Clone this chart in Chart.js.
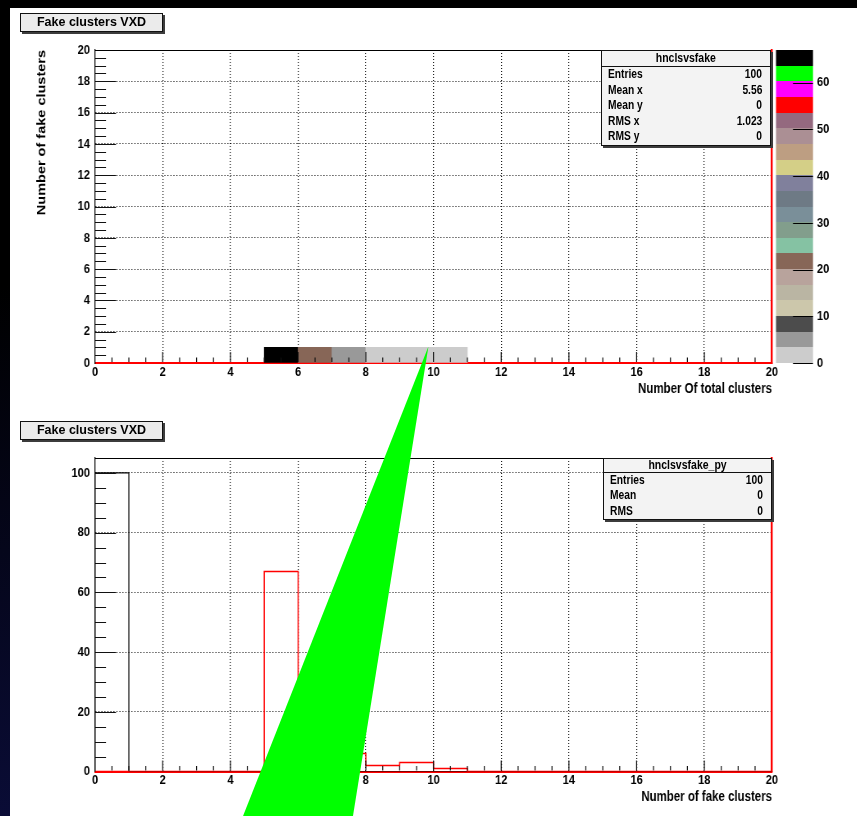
<!DOCTYPE html>
<html lang="en">
<head>
<meta charset="utf-8">
<title>Fake clusters VXD</title>
<script src="https://cdn.jsdelivr.net/npm/chart.js@4.4.1/dist/chart.umd.min.js"></script>
<style>
  html, body { margin: 0; padding: 0; background: #000; }
  #page { position: relative; width: 857px; height: 816px; overflow: hidden; background: #000; }
  #edge { position: absolute; left: 0; top: 0; width: 10px; height: 816px;
          background: linear-gradient(to bottom, #000 0%, #000 35%, #0a0c36 100%); }
  #sheet { position: absolute; left: 10px; top: 8px; width: 847px; height: 808px; background: #fff; }
  .pad { position: absolute; left: 10px; }
  #padTop { top: 8px; }
  #padBottom { top: 408px; }
  .pad canvas { display: block; }
  .pave { position: absolute; box-sizing: border-box; border: 1px solid #111; box-shadow: 2px 2px 0 #3c3c3c; color: #000; }
  .title { left: 20px; width: 143px; height: 19px; background: #ebebeb;
           font: bold 12.5px "Liberation Sans", Arial, sans-serif; line-height: 17px; text-align: center; }
  .stats { background: #f3f3f3; font: bold 12.5px "Liberation Sans", Arial, sans-serif; }
  .stats .head { text-align: center; border-bottom: 1px solid #111; box-sizing: border-box; }
  .stats .head span { display: inline-block; transform: scaleX(0.84); }
  .stats .row { display: flex; justify-content: space-between; padding: 0 8px 0 6px; }
  .stats .row span { display: inline-block; transform: scaleX(0.82); }
  .stats .row span:first-child { transform-origin: left center; }
  .stats .row span:last-child { transform-origin: right center; }
  #overlay { position: absolute; left: 0; top: 0; pointer-events: none; }
</style>
</head>
<body>
<div id="page">
  <div id="edge"></div>
  <div id="sheet"></div>
  <div class="pad" id="padTop"><canvas id="cTop" width="1026" height="400" style="width:841px;height:400px"></canvas></div>
  <div class="pad" id="padBottom"><canvas id="cBottom" width="1026" height="408" style="width:841px;height:408px"></canvas></div>
  <div class="pave title" style="top:13px">Fake clusters VXD</div>
  <div class="pave title" style="top:421px">Fake clusters VXD</div>
  <div class="pave stats" id="statsTop" style="left:601px;top:50px;width:170px;height:96px"></div>
  <div class="pave stats" id="statsBottom" style="left:603px;top:458px;width:169px;height:62px"></div>
  <canvas id="overlay" width="857" height="816"></canvas>
</div>
<script>
// ---- hnclsvsfake: entries per (total clusters, fake clusters) cell ----
// every event has 0 fake clusters; total cluster counts 5..10
const totalClusterBins = [5, 6, 7, 8, 9, 10];
const fakeClusterBin = 0;
const cellEntries = [67, 21, 6, 2, 3, 1];

// axis ranges and tick spacing
const xRange = [0, 20];
const fakeRange = [0, 20];
const countRange = [0, 105];
const xTickStep = 2;
const fakeTickStep = 2;
const countTickStep = 20;
const zTickStep = 10;

// 20-level colour palette, lowest level first
const paletteColors = [
  '#cccccc', '#999999', '#4c4c4c', '#ccc7ab', '#bab5a3', '#b8a39c', '#876657',
  '#85c2a3', '#829e8c', '#7a8f99', '#6e7a85', '#80809c', '#d4cf87', '#bd9e82',
  '#ab8f94', '#94697f', '#ff0000', '#ff00ff', '#00ff00', '#000000'
];

// green pointer, tip in the upper pad's units, base in the lower pad's units
const pointerTip = { x: 9.85, y: 1.05 };
const pointerBase = [{ x: 4.37, y: -15 }, { x: 7.62, y: -15 }];

// the canvases are drawn wider than shown, giving the condensed lettering
const K = 841 / 1026;
const ix = v => v / K;

// ---- derived quantities ----
const sum = a => a.reduce((s, v) => s + v, 0);
const zMax = Math.max(...cellEntries);
const colorFor = z => paletteColors[Math.min(paletteColors.length - 1,
  Math.floor(z / zMax * paletteColors.length))];

const nBins = xRange[1] - xRange[0];
const projTotal = new Array(nBins).fill(0);
totalClusterBins.forEach((b, i) => { projTotal[b] += cellEntries[i]; });
const projFake = new Array(nBins).fill(0);
projFake[fakeClusterBin] = sum(cellEntries);

const stepPoints = counts => [{ x: 0, y: 0 }, ...counts.map((c, i) => ({ x: i, y: c })), { x: counts.length, y: 0 }];

const nEntries = sum(cellEntries);
const meanOf = (vals, w) => sum(vals.map((v, i) => v * w[i])) / sum(w);
const rmsOf = (vals, w) => { const m = meanOf(vals, w); return Math.sqrt(Math.max(0, sum(vals.map((v, i) => v * v * w[i])) / sum(w) - m * m)); };
const fakeVals = cellEntries.map(() => fakeClusterBin);
const fmt = v => String(Number(v.toPrecision(4)));

// ---- stats boxes ----
function fillStats(el, name, rows, headH, rowH) {
  el.innerHTML = `<div class="head" style="height:${headH}px;line-height:${headH - 1}px"><span>${name}</span></div>` +
    rows.map(([k, v]) => `<div class="row" style="height:${rowH}px;line-height:${rowH}px"><span>${k}</span><span>${v}</span></div>`).join('');
}
fillStats(document.getElementById('statsTop'), 'hnclsvsfake', [
  ['Entries', String(nEntries)],
  ['Mean x', fmt(meanOf(totalClusterBins, cellEntries))],
  ['Mean y', fmt(meanOf(fakeVals, cellEntries))],
  ['RMS x', fmt(rmsOf(totalClusterBins, cellEntries))],
  ['RMS y', fmt(rmsOf(fakeVals, cellEntries))]
], 16, 15.6);
const fakeBinValues = projFake.map((_, i) => i);
fillStats(document.getElementById('statsBottom'), 'hnclsvsfake_py', [
  ['Entries', String(sum(projFake))],
  ['Mean', fmt(meanOf(fakeBinValues, projFake))],
  ['RMS', fmt(rmsOf(fakeBinValues, projFake))]
], 14, 46 / 3);

// ---- shared styling ----
const sans = '"Liberation Sans", Arial, sans-serif';
const tickFont = { family: sans, size: 13.5, weight: 'bold' };
const xTitleFont = { family: sans, size: 14, weight: 'bold' };
const yTitleFont = { family: sans, size: 14.5, weight: 'bold' };
const gridColor = (lo, hi) => ctx => (ctx.tick && (ctx.tick.value === lo || ctx.tick.value === hi)) ? 'rgba(0,0,0,0)' : '#111';

// tick marks pointing into the frame, with minor divisions
const innerTicks = {
  id: 'innerTicks',
  afterDatasetsDraw(chart, args, o) {
    const { ctx, chartArea: a, scales: { x, y } } = chart;
    const steps = (s, d) => { const out = []; for (let k = 1; s.min + k * d < s.max - 1e-9; k++) out.push(s.min + k * d); return out; };
    const major = (v, m) => Math.abs(v / m - Math.round(v / m)) < 1e-6;
    ctx.save();
    ctx.strokeStyle = '#111';
    ctx.lineWidth = ix(1);
    ctx.beginPath();
    steps(x, o.xMinor).forEach(v => {
      const px = x.getPixelForValue(v);
      ctx.moveTo(px, a.bottom - 1);
      ctx.lineTo(px, a.bottom - (major(v, o.xMajor) ? 11 : 5.5));
    });
    ctx.stroke();
    ctx.lineWidth = 1;
    ctx.beginPath();
    steps(y, o.yMinor).forEach(v => {
      const py = Math.round(y.getPixelForValue(v)) + 0.5;
      ctx.moveTo(a.left, py);
      ctx.lineTo(a.left + ix(major(v, o.yMajor) ? 21 : 11), py);
    });
    ctx.stroke();
    ctx.restore();
  }
};

// colour scale next to the frame
const paletteBar = {
  id: 'paletteBar',
  afterDraw(chart) {
    const z = chart.scales.z;
    if (!z) return;
    const { ctx } = chart;
    const x0 = z.left + ix(4), x1 = z.left + ix(41);
    const n = paletteColors.length;
    ctx.save();
    paletteColors.forEach((c, i) => {
      const yA = Math.round(z.getPixelForValue(i * zMax / n));
      const yB = Math.round(z.getPixelForValue((i + 1) * zMax / n));
      ctx.fillStyle = c;
      ctx.fillRect(x0, yB, x1 - x0, yA - yB);
    });
    ctx.strokeStyle = '#000';
    ctx.lineWidth = 1;
    ctx.beginPath();
    z.ticks.forEach(t => {
      const py = Math.round(z.getPixelForValue(t.value)) + 0.5;
      ctx.moveTo(x1, py);
      ctx.lineTo(x1 - ix(20), py);
    });
    ctx.stroke();
    ctx.restore();
  }
};

const frameTop = {
  type: 'linear', position: 'top', min: 0, max: 1,
  ticks: { display: false }, grid: { drawOnChartArea: false, drawTicks: false },
  border: { color: '#000', width: 1 }, afterFit: s => { s.height = 0; }
};
const frameRight = {
  type: 'linear', position: 'right', min: 0, max: 1,
  ticks: { display: false }, grid: { drawOnChartArea: false, drawTicks: false },
  border: { color: '#ff0000', width: ix(2) }, afterFit: s => { s.width = 0; }
};

function xAxis(title, height) {
  return {
    type: 'linear', position: 'bottom', min: xRange[0], max: xRange[1], offset: false,
    ticks: { stepSize: xTickStep, autoSkip: false, maxRotation: 0, padding: 1, color: '#000', font: tickFont },
    grid: { offset: false, drawTicks: false, color: gridColor(xRange[0], xRange[1]), lineWidth: ix(1) },
    border: { color: '#ff0000', width: 2, dash: [1, 2] },
    title: { display: true, text: title, align: 'end', color: '#000', font: xTitleFont, padding: { top: 0, bottom: 10.6 } },
    afterFit: s => { s.height = height; }
  };
}
function yAxis(range, step, title) {
  return {
    type: 'linear', position: 'left', min: range[0], max: range[1],
    ticks: { stepSize: step, includeBounds: false, padding: ix(5), color: '#000', font: tickFont },
    grid: { drawTicks: false, color: gridColor(range[0], range[1]), lineWidth: 1 },
    border: { color: '#000', width: ix(1), dash: [ix(1), ix(2)] },
    title: { display: !!title, text: title || '', align: 'end', color: '#000', font: yTitleFont, padding: { top: ix(32) - 8.7, bottom: 0 } },
    afterFit: s => { s.width = ix(85); }
  };
}

// ---- upper pad: 2D histogram drawn with palette colours ----
const chartTop = new Chart(document.getElementById('cTop'), {
  type: 'bar',
  data: {
    datasets: [{
      data: totalClusterBins.map(b => ({ x: b + 0.5, y: [fakeClusterBin, fakeClusterBin + 1] })),
      backgroundColor: cellEntries.map(colorFor),
      borderWidth: 0,
      barPercentage: 1,
      categoryPercentage: 1,
      xAxisID: 'x', yAxisID: 'y'
    }]
  },
  options: {
    responsive: false, animation: false, devicePixelRatio: 1, events: [],
    layout: { padding: { left: 0, top: 42, right: 0, bottom: 0 } },
    plugins: { legend: { display: false }, tooltip: { enabled: false },
      innerTicks: { xMinor: 0.5, xMajor: xTickStep, yMinor: 0.5, yMajor: fakeTickStep } },
    scales: {
      x: xAxis('Number Of total clusters', 45),
      y: yAxis(fakeRange, fakeTickStep, 'Number of fake clusters'),
      xt: frameTop,
      yr: frameRight,
      z: {
        type: 'linear', position: 'right', min: 0, max: zMax,
        ticks: { stepSize: zTickStep, includeBounds: false, padding: 0, color: '#000', font: tickFont },
        grid: { drawOnChartArea: false, drawTicks: true, tickLength: ix(45), tickColor: 'rgba(0,0,0,0)' },
        border: { display: false },
        afterFit: s => { s.width = 1026 - ix(762); }
      }
    }
  },
  plugins: [paletteBar, innerTicks]
});

// ---- lower pad: projections onto each axis ----
const chartBottom = new Chart(document.getElementById('cBottom'), {
  type: 'line',
  data: {
    datasets: [
      { data: stepPoints(projTotal), borderColor: '#ff0000', borderWidth: 1.5, stepped: true, pointRadius: 0, fill: false, xAxisID: 'x', yAxisID: 'y' },
      { data: stepPoints(projFake), borderColor: '#000000', borderWidth: 1.2, stepped: true, pointRadius: 0, fill: false, xAxisID: 'x', yAxisID: 'y' }
    ]
  },
  options: {
    responsive: false, animation: false, devicePixelRatio: 1, events: [],
    layout: { padding: { left: 0, top: 50, right: 1026 - ix(762), bottom: 0 } },
    plugins: { legend: { display: false }, tooltip: { enabled: false },
      innerTicks: { xMinor: 0.5, xMajor: xTickStep, yMinor: 5, yMajor: countTickStep } },
    scales: {
      x: xAxis('Number of fake clusters', 44.5),
      y: yAxis(countRange, countTickStep, null),
      xt: frameTop,
      yr: frameRight
    }
  },
  plugins: [innerTicks]
});

// ---- green pointer joining the two pads ----
(function drawPointer() {
  const page = document.getElementById('page').getBoundingClientRect();
  const toPage = (chart, p) => {
    const r = chart.canvas.getBoundingClientRect();
    const sx = r.width / chart.canvas.width, sy = r.height / chart.canvas.height;
    return [r.left - page.left + chart.scales.x.getPixelForValue(p.x) * sx,
            r.top - page.top + chart.scales.y.getPixelForValue(p.y) * sy];
  };
  const ctx = document.getElementById('overlay').getContext('2d');
  const tip = toPage(chartTop, pointerTip);
  const b0 = toPage(chartBottom, pointerBase[0]);
  const b1 = toPage(chartBottom, pointerBase[1]);
  ctx.fillStyle = '#00ff00';
  ctx.beginPath();
  ctx.moveTo(tip[0], tip[1]);
  ctx.lineTo(b1[0], b1[1]);
  ctx.lineTo(b0[0], b0[1]);
  ctx.closePath();
  ctx.fill();
})();
</script>
</body>
</html>
